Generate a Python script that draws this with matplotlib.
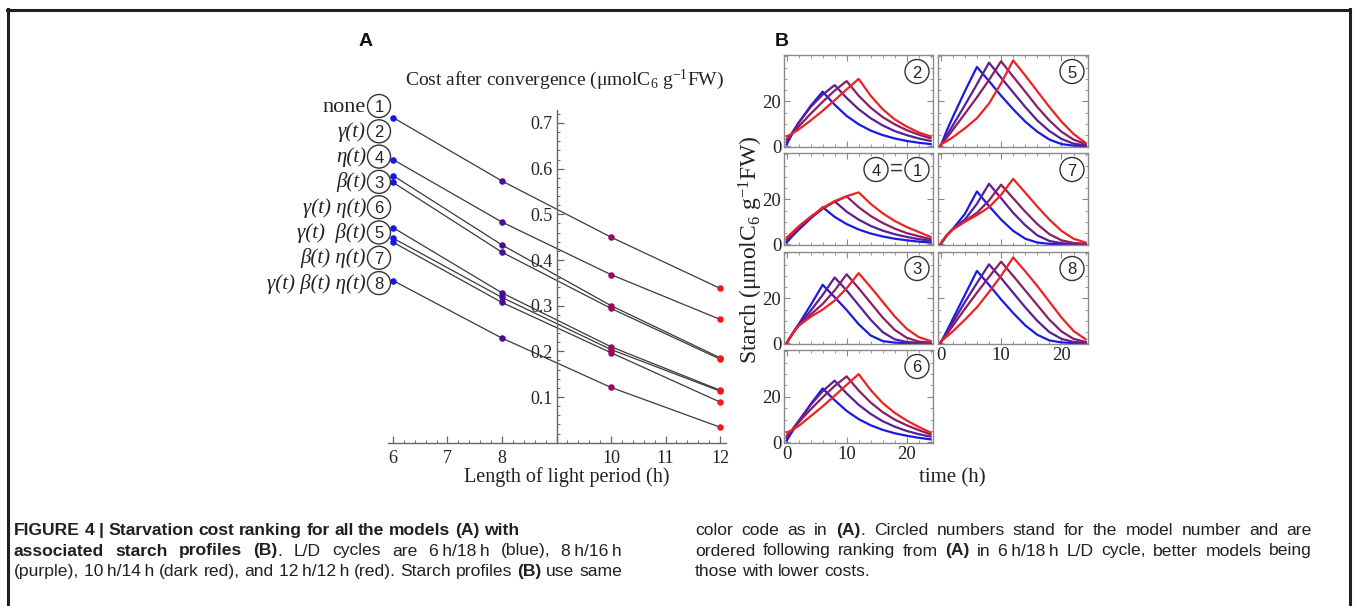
import matplotlib
matplotlib.use('Agg')
import matplotlib.pyplot as plt
from matplotlib.patches import Ellipse
from matplotlib.lines import Line2D
from matplotlib.transforms import IdentityTransform
from matplotlib.ticker import MultipleLocator, FixedLocator

W, H = 1356, 606
SERIF = ['Liberation Serif', 'DejaVu Serif']
SANS = ['Liberation Sans', 'DejaVu Sans']
CAPTION = ['Liberation Sans', 'DejaVu Sans']

plt.rcParams['font.family'] = SERIF
plt.rcParams['mathtext.fontset'] = 'custom'
plt.rcParams['mathtext.rm'] = 'Liberation Serif'
plt.rcParams['mathtext.it'] = 'Liberation Serif:italic'

# ---------------- panel A data ----------------
light_hours = [6, 8, 10, 12]
model_numbers = ['1', '2', '4', '3', '6', '5', '7', '8']
model_labels = ['none', 'γ(t)', 'η(t)', 'β(t)', 'γ(t) η(t)',
                'γ(t)  β(t)', 'β(t) η(t)', 'γ(t) β(t) η(t)']
cost_6h = [0.712, 0.620, 0.585, 0.570, 0.471, 0.448, 0.439, 0.355]
cost_8h = [0.573, 0.483, 0.433, 0.417, 0.328, 0.318, 0.307, 0.229]
cost_10h = [0.450, 0.368, 0.300, 0.294, 0.210, 0.204, 0.197, 0.121]
cost_12h = [0.338, 0.270, 0.186, 0.183, 0.115, 0.113, 0.089, 0.034]
x_ticks = [6, 7, 8, 9, 10, 11, 12]
x_ticklabels = ['6', '7', '8', '', '10', '11', '12']
y_ticks = [0.1, 0.2, 0.3, 0.4, 0.5, 0.6, 0.7]

period_colors = ['#1414f5', '#4a0a9e', '#9a0a5a', '#f01a1a']
curve_colors = ['#1a1ae6', '#5a1e96', '#8a1e64', '#ee2222']

# ---------------- panel B data (starch, umol C6 / g FW) ----------------
time_h = [0, 1, 2, 4, 6, 8, 10, 12, 14, 16, 18, 20, 22, 24]
# order of curves: 6h (blue), 8h (purple), 10h (dark red), 12h (red)
starch_m2 = [
    [0.8, 6.0, 10.5, 18.0, 24.3, 18.5, 13.5, 9.8, 7.0, 5.0, 3.5, 2.4, 1.6, 1.0],
    [1.8, 6.5, 10.5, 17.5, 23.0, 27.2, 21.5, 16.5, 12.5, 9.3, 6.8, 5.0, 3.5, 2.4],
    [3.0, 5.8, 8.8, 14.5, 19.8, 24.8, 29.0, 22.5, 17.2, 13.0, 9.8, 7.2, 5.2, 3.6],
    [4.4, 5.8, 7.5, 11.5, 15.8, 20.5, 25.3, 30.0, 22.5, 16.5, 12.0, 8.8, 6.2, 4.4],
]
starch_m5 = [
    [0.2, 7.0, 13.0, 24.5, 35.3, 29.0, 22.5, 16.5, 11.0, 6.5, 3.0, 1.0, 0.3, 0.1],
    [0.3, 4.8, 9.3, 18.3, 27.6, 37.2, 30.5, 24.0, 17.5, 11.5, 6.8, 3.3, 1.2, 0.4],
    [0.5, 3.8, 7.3, 14.5, 21.8, 29.5, 37.8, 31.0, 24.3, 17.5, 11.5, 6.5, 3.0, 1.0],
    [0.8, 2.3, 4.0, 8.0, 12.5, 19.0, 28.0, 38.2, 31.5, 24.5, 17.5, 11.0, 5.5, 1.5],
]
starch_m41 = [
    [0.8, 3.8, 6.5, 11.5, 16.5, 12.2, 9.0, 6.6, 4.8, 3.5, 2.5, 1.8, 1.2, 0.8],
    [1.5, 4.3, 7.0, 11.7, 15.8, 19.1, 14.5, 11.0, 8.2, 6.1, 4.5, 3.3, 2.3, 1.6],
    [2.2, 4.9, 7.5, 12.0, 16.0, 18.9, 21.3, 16.5, 12.6, 9.5, 7.0, 5.0, 3.6, 2.3],
    [3.0, 5.5, 8.0, 12.3, 16.2, 19.2, 21.4, 23.1, 18.0, 13.8, 10.4, 7.7, 5.5, 3.3],
]
starch_m7 = [
    [0.0, 4.0, 6.8, 13.5, 23.5, 17.0, 11.0, 6.0, 2.5, 0.8, 0.2, 0.1, 0.0, 0.0],
    [0.2, 4.0, 6.8, 11.0, 18.0, 26.9, 20.5, 14.0, 8.5, 4.0, 1.5, 0.5, 0.2, 0.1],
    [0.3, 4.0, 6.7, 10.3, 14.0, 19.5, 26.5, 20.5, 14.5, 9.0, 4.5, 1.8, 0.6, 0.2],
    [0.5, 4.0, 6.6, 10.0, 13.0, 16.5, 22.0, 29.1, 23.0, 16.8, 11.0, 6.0, 2.5, 0.8],
]
starch_m3 = [
    [0.0, 4.5, 8.5, 17.0, 26.0, 20.5, 14.8, 8.5, 3.5, 1.0, 0.3, 0.1, 0.0, 0.0],
    [0.1, 4.5, 8.3, 14.5, 21.5, 29.3, 23.5, 17.0, 10.5, 5.0, 1.8, 0.6, 0.2, 0.1],
    [0.2, 4.4, 8.0, 12.8, 17.5, 23.5, 30.7, 24.5, 18.0, 11.5, 6.0, 2.5, 0.8, 0.3],
    [0.3, 4.3, 7.8, 11.8, 15.0, 19.0, 24.5, 31.2, 25.0, 18.5, 12.0, 6.5, 2.8, 1.0],
]
starch_m8 = [
    [0.2, 5.5, 10.8, 21.5, 32.2, 26.0, 19.5, 13.5, 8.0, 3.8, 1.3, 0.4, 0.1, 0.0],
    [0.3, 4.8, 9.3, 18.3, 26.8, 35.1, 29.0, 22.5, 16.0, 10.0, 5.0, 2.0, 0.6, 0.2],
    [0.5, 4.0, 7.8, 15.3, 22.5, 29.5, 36.3, 30.0, 23.5, 17.0, 10.5, 5.3, 2.0, 0.6],
    [0.8, 3.0, 5.3, 10.5, 16.0, 22.8, 30.0, 38.2, 32.0, 25.5, 18.5, 11.5, 5.5, 1.8],
]
starch_m6 = [
    [0.8, 5.0, 9.0, 16.8, 23.7, 18.5, 13.8, 10.2, 7.5, 5.5, 4.0, 2.9, 2.0, 1.3],
    [1.8, 5.8, 9.5, 16.5, 22.5, 27.1, 21.5, 16.5, 12.5, 9.3, 6.9, 5.0, 3.6, 2.5],
    [2.8, 5.8, 8.8, 14.5, 19.8, 24.8, 29.0, 22.8, 17.5, 13.3, 10.0, 7.5, 5.4, 3.5],
    [4.3, 5.5, 7.2, 11.5, 15.8, 20.5, 25.3, 30.0, 23.0, 17.3, 13.0, 9.6, 6.8, 4.3],
]

# panel tag, row, column, curves
b_panels = [(['2'], 0, 0, starch_m2), (['5'], 0, 1, starch_m5),
            (['4', '1'], 1, 0, starch_m41), (['7'], 1, 1, starch_m7),
            (['3'], 2, 0, starch_m3), (['8'], 2, 1, starch_m8),
            (['6'], 3, 0, starch_m6)]

caption_left = [
    ("*FIGURE 4 | Starvation cost ranking for all the models (A) with*", False),
    ("*associated starch profiles (B)*. L/D cycles are 6\u2009h/18\u2009h (blue), 8\u2009h/16\u2009h", True),
    ("(purple), 10\u2009h/14\u2009h (dark red), and 12\u2009h/12\u2009h (red). Starch profiles *(B)* use same", True),
]
caption_right = [
    ("color code as in *(A)*. Circled numbers stand for the model number and are", True),
    ("ordered following ranking from *(A)* in 6\u2009h/18\u2009h L/D cycle, better models being", True),
    ("those with lower costs.", False),
]


def rect(x0, x1, y0, y1):
    # pixel box (top-based y) -> figure fraction rect
    return [x0 / W, 1 - y1 / H, (x1 - x0) / W, (y1 - y0) / H]


def fx(x):
    return x / W


def fy(y):
    return 1 - y / H


def circled(fig, cx, cy, label, d=23, fs=12):
    fig.add_artist(Ellipse((fx(cx), fy(cy)), d / W, d / H, transform=fig.transFigure,
                           fill=False, edgecolor='#333333', lw=1.0))
    fig.text(fx(cx), fy(cy + 6), label, ha='center', va='baseline',
             fontsize=fs, family=SANS, color='#222222')


fig = plt.figure(figsize=(W / 100, H / 100), dpi=100)
fig.patch.set_facecolor('white')

# ---------------- panel A ----------------
axA = fig.add_axes(rect(387.5, 725.5, 110.2, 442.7))
axA.set_xlim(5.9, 12.1)
axA.set_ylim(0, 0.728)
costs = [cost_6h, cost_8h, cost_10h, cost_12h]
for i in range(len(model_labels)):
    axA.plot(light_hours, [c[i] for c in costs], color='#3a3a3a', lw=0.9, zorder=2)
for h, c, col in zip(light_hours, costs, period_colors):
    axA.scatter([h] * len(c), c, s=22, color=col, zorder=3, linewidths=0)

axA.spines['top'].set_visible(False)
axA.spines['right'].set_visible(False)
axA.spines['left'].set_position(('data', 9))
for s in ['left', 'bottom']:
    axA.spines[s].set_color('#666666')
    axA.spines[s].set_linewidth(1.0)
axA.set_xticks(x_ticks)
axA.set_xticklabels(x_ticklabels)
axA.xaxis.set_minor_locator(MultipleLocator(0.2))
axA.set_yticks(y_ticks)
axA.set_yticklabels([f'{v:.1f}' for v in y_ticks])
axA.yaxis.set_minor_locator(MultipleLocator(0.02))
axA.tick_params(which='both', direction='in', colors='#666666', labelcolor='#222222',
                labelsize=13)
axA.tick_params(which='major', length=5, width=0.9)
axA.tick_params(which='minor', length=2.5, width=0.7)
axA.tick_params(axis='x', pad=5)
axA.tick_params(axis='y', pad=3)
axA.patch.set_alpha(0)

fig.text(fx(565), fy(80), 'Cost after convergence (μmolC$_6$ g$^{-1}$FW)',
         ha='center', va='center', fontsize=14, color='#222222')
fig.text(fx(567), fy(477), 'Length of light period (h)', ha='center', va='center',
         fontsize=14.5, color='#222222')

for i, (lab, num) in enumerate(zip(model_labels, model_numbers)):
    cy = 106 + 25.3 * i
    fig.text(fx(366), fy(cy + 5.5), lab, ha='right', va='baseline',
             fontsize=16 if lab == 'none' else 15,
             style='normal' if lab == 'none' else 'italic', color='#222222')
    circled(fig, 379, cy, num)

fig.text(fx(366), fy(42), 'A', ha='center', va='center', fontsize=14,
         fontweight='bold', family=SANS, color='#111111')
fig.text(fx(782), fy(42), 'B', ha='center', va='center', fontsize=14,
         fontweight='bold', family=SANS, color='#111111')

# ---------------- panel B ----------------
col_x = [(784, 933), (938, 1088)]
row_y = [(55, 147), (153, 245), (252, 344), (350, 443)]
for tag, r, c, curves in b_panels:
    x0, x1 = col_x[c]
    y0, y1 = row_y[r]
    ax = fig.add_axes(rect(x0, x1, y0, y1))
    for vals, col in zip(curves, curve_colors):
        ax.plot(time_h, vals, color=col, lw=1.6, solid_joinstyle='round')
    ax.set_xlim(-0.45, 24.4)
    ax.set_ylim(-0.3, 40.6)
    ax.xaxis.set_major_locator(FixedLocator([0, 10, 20]))
    ax.xaxis.set_minor_locator(MultipleLocator(2))
    ax.yaxis.set_major_locator(FixedLocator([0, 20]))
    ax.yaxis.set_minor_locator(MultipleLocator(5))
    ax.tick_params(which='both', direction='in', top=True, right=True,
                   colors='#888888', labelcolor='#222222', labelsize=13.5)
    ax.tick_params(which='major', length=4, width=0.8, pad=2)
    ax.tick_params(which='minor', length=2, width=0.6)
    for s in ax.spines.values():
        s.set_color('#8a8a8a')
        s.set_linewidth(1.0)
    if c == 1:
        ax.tick_params(labelleft=False)
    show_x = (r == 2 and c == 1) or (r == 3 and c == 0)
    if not show_x:
        ax.tick_params(labelbottom=False)
    cx = x1 - 16
    cy = y0 + 16.5
    if len(tag) == 1:
        circled(fig, cx, cy, tag[0], d=24)
    else:
        circled(fig, cx, cy, tag[1], d=24)
        circled(fig, cx - 41, cy, tag[0], d=24)
        fig.text(fx(cx - 20.5), fy(cy), '=', ha='center', va='center',
                 fontsize=16, family=SANS, color='#333333')

fig.text(fx(751), fy(250), 'Starch (μmolC$_6$ g$^{-1}$FW)', rotation=90,
         ha='center', va='center', fontsize=17, color='#222222')
fig.text(fx(952), fy(478), 'time (h)', ha='center', va='center', fontsize=15,
         color='#222222')

# ---------------- frame lines ----------------
for xs, ys in [([7, 1350], [10, 10]), ([7.5, 7.5], [9, 606]), ([1350, 1350], [9, 606])]:
    fig.add_artist(Line2D([fx(v) for v in xs], [fy(v) for v in ys],
                          transform=fig.transFigure, color='#231f20', lw=2.2))

# ---------------- caption ----------------
CAP_FS = 12.6
renderer = fig.canvas.get_renderer()


def caption_line(x0, x1, base, line, justify, state):
    words = []
    for w in line.split(' '):
        parts = []
        for k, seg in enumerate(w.split('*')):
            if k > 0:
                state[0] = not state[0]
            if seg:
                parts.append((seg, state[0]))
        words.append(parts)
    placed = []
    widths = []
    for parts in words:
        off = 0
        items = []
        for seg, b in parts:
            t = fig.text(0, 0, seg, transform=IdentityTransform(), fontsize=CAP_FS,
                         fontweight='bold' if b else 'normal', family=CAPTION,
                         ha='left', va='baseline', color='#231f20')
            wd = t.get_window_extent(renderer).width
            items.append((t, off))
            off += wd
        placed.append(items)
        widths.append(off)
    gap = CAP_FS * 100 / 72 * 0.26
    if justify and len(words) > 1:
        gap = max(2.0, (x1 - x0 - sum(widths)) / (len(words) - 1))
    x = x0
    for items, wd in zip(placed, widths):
        for t, off in items:
            t.set_position((x + off, H - base))
        x += wd + gap


state = [False]
for i, (line, just) in enumerate(caption_left):
    caption_line(14, 622, 535 + 20.5 * i, line, just, state)
state = [False]
for i, (line, just) in enumerate(caption_right):
    caption_line(695, 1312, 535 + 20.5 * i, line, just, state)

fig.savefig('out.png', dpi=100)
